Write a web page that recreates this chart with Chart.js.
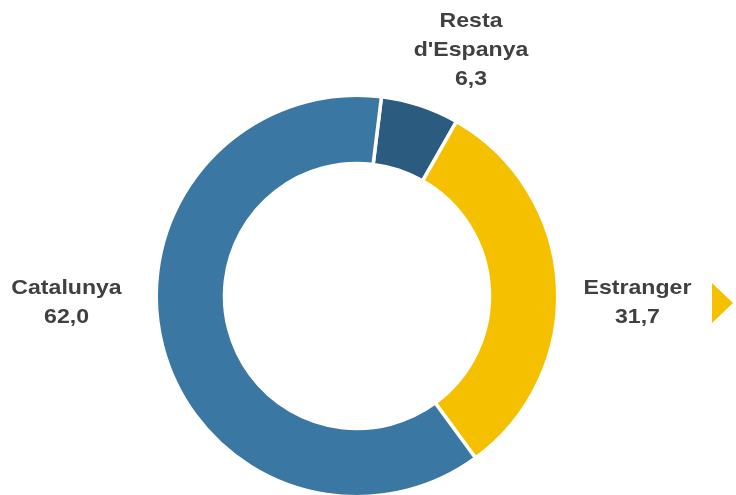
<!DOCTYPE html>
<html>
<head>
<meta charset="utf-8">
<script src="https://cdn.jsdelivr.net/npm/chart.js@4/dist/chart.umd.min.js"></script>
<style>
  html, body { margin: 0; padding: 0; background: #fff; overflow: hidden; }
  #wrap { position: relative; width: 736px; height: 500px; }
</style>
</head>
<body>
<div id="wrap"><canvas id="grafic"></canvas></div>
<script>
// Dades
const categories = ["Resta d'Espanya", 'Estranger', 'Catalunya'];
const valors = [6.3, 31.7, 62.0];
const etiquetes = [['Resta', "d'Espanya", '6,3'], ['Estranger', '31,7'], ['Catalunya', '62,0']];
const colors = ['#2b5b7e', '#f5c000', '#3a77a2'];

// posició de cada etiqueta respecte al centre, en radis
const posEtiquetes = [[0.568, -1.226], [1.397, 0.033], [-1.447, 0.035]];

const etiquetesPlugin = {
    id: 'etiquetes',
    afterDraw(chart) {
        const ctx = chart.ctx;
        const arc = chart.getDatasetMeta(0).data[0];
        const cx = arc.x, cy = arc.y, r = arc.outerRadius;
        ctx.save();
        ctx.fillStyle = '#404040';
        ctx.font = 'bold 21px "Liberation Sans", Arial, sans-serif';
        ctx.textAlign = 'center';
        ctx.textBaseline = 'middle';
        etiquetes.forEach((linies, i) => {
            const x = cx + posEtiquetes[i][0] * r;
            const y = cy + posEtiquetes[i][1] * r;
            const lh = 29;
            const y0 = y - (linies.length - 1) * lh / 2;
            linies.forEach((t, j) => {
                ctx.save();
                ctx.translate(x, y0 + j * lh);
                ctx.scale(1.1, 1); // el text original és més ample
                ctx.fillText(t, 0, 0);
                ctx.restore();
            });
        });
        // fletxa groga a la dreta
        const w = chart.width;
        ctx.fillStyle = '#f5c000';
        ctx.beginPath();
        ctx.moveTo(w - 24, cy - 13);
        ctx.lineTo(w - 3, cy + 7);
        ctx.lineTo(w - 24, cy + 27);
        ctx.closePath();
        ctx.fill();
        ctx.restore();
    }
};

const ctx = document.getElementById('grafic').getContext('2d');
new Chart(ctx, {
    type: 'doughnut',
    data: {
        labels: categories,
        datasets: [{
            data: valors,
            backgroundColor: colors,
            borderColor: '#ffffff',
            borderWidth: 3.5
        }]
    },
    options: {
        responsive: true,
        maintainAspectRatio: false,
        animation: false,
        cutout: '66%',
        rotation: 7,
        layout: {
            padding: { top: 93.5, bottom: 1.5, left: 0, right: 22 }
        },
        plugins: {
            legend: { display: false },
            tooltip: { enabled: false }
        }
    },
    plugins: [etiquetesPlugin]
});
</script>
</body>
</html>
